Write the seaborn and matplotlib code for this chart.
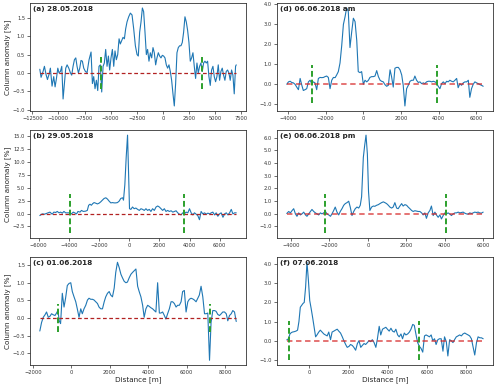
import numpy as np
import matplotlib
matplotlib.use("Agg")
import matplotlib.pyplot as plt
import matplotlib.ticker as mt
import seaborn as sns

# ---------------- data ----------------
titles = ["(a) 28.05.2018", "(d) 06.06.2018 am", "(b) 29.05.2018",
          "(e) 06.06.2018 pm", "(c) 01.06.2018", "(f) 07.06.2018"]

x_a = [-11780, -11660, -11470, -11340, -11180, -11050, -10890, -10770, -10610, -10450,
       -10320, -10190, -10060, -9940, -9810, -9680, -9555, -9430, -9300, -9170,
       -9010, -8850, -8730, -8600, -8470, -8340, -8220, -8090, -7960, -7840,
       -7710, -7580, -7420, -7260, -7070, -6880, -6750, -6625, -6500, -6370,
       -6240, -6120, -5990, -5860, -5730, -5610, -5480, -5350, -5220, -5100,
       -4970, -4840, -4710, -4590, -4460, -4330, -4200, -4080, -3950, -3820,
       -3690, -3570, -3440, -3280, -3120, -2960, -2800, -2640, -2480, -2360,
       -2230, -2100, -1970, -1850, -1720, -1590, -1470, -1340, -1210, -1080,
       -955, -830, -700, -575, -445, -320, -190, -64, 64, 191,
       319, 446, 573, 701, 828, 956, 1083, 1210, 1338, 1465,
       1593, 1720, 1847, 1975, 2102, 2230, 2357, 2484, 2612, 2739,
       2867, 2994, 3121, 3249, 3376, 3504, 3631, 3758, 3886, 4013,
       4141, 4268, 4395, 4523, 4650, 4778, 4905, 5032, 5160, 5287,
       5415, 5542, 5669, 5797, 5924, 6052, 6179, 6306, 6434, 6561,
       6689, 6816, 6943, 7007]
y_a = [0.1, -0.12, 0.04, 0.18, -0.05, -0.18, -0.03, 0.13, -0.36, -0.1,
       -0.38, -0.15, 0.13, 0.0, 0.04, 0.18, -0.71, -0.29, 0.13, 0.22,
       0.13, 0.0, -0.06, 0.18, 0.36, 0.41, 0.18, 0.0, 0.13, 0.34,
       0.32, 0.13, 0.04, 0.01, 0.36, 0.57, -0.29, -0.1, -0.43, -0.2,
       -0.48, 0.18, 0.22, -0.52, 0.18, 0.27, 0.64, 0.18, 0.46, 0.08,
       0.41, 0.64, 0.18, 0.6, 0.36, 0.5, 0.93, 0.79, 0.88, 0.97,
       0.93, 1.2, 1.39, 1.53, 1.63, 1.58, 1.2, 0.74, 0.5, 0.46,
       1.11, 1.39, 1.77, 1.67, 1.11, 0.5, 0.64, 0.32, 0.55, 0.41,
       0.69, 0.55, 0.22, 0.41, 0.55, 0.46, 0.41, 0.48, 0.46, 0.41,
       0.22, 0.13, 0.22, 0.04, -0.2, -0.57, -0.9, -0.29, 0.55, 0.69,
       0.74, 0.74, 0.83, 1.11, 1.53, 1.39, 1.16, 0.83, 0.32, 0.41,
       0.55, 0.18, -0.15, 0.27, 0.0, 0.18, 0.27, 0.04, 0.27, 0.32,
       0.27, 0.32, -0.1, -0.34, 0.08, 0.18, -0.1, -0.24, -0.1, 0.22,
       -0.2, 0.04, 0.13, -0.06, -0.2, 0.04, 0.08, 0.0, -0.2, 0.08,
       -0.06, -0.57, 0.18, 0.22]

x_b = [-5930, -5770, -5620, -5440, -5260, -5110, -5000, -4880, -4770, -4660,
       -4550, -4440, -4330, -4220, -4110, -3950, -3840, -3710, -3620, -3490,
       -3400, -3260, -3170, -3040, -2890, -2780, -2690, -2600, -2510, -2420,
       -2330, -2220, -2110, -2000, -1890, -1780, -1665, -1550, -1440, -1330,
       -1220, -1110, -1000, -890, -780, -670, -560, -440, -380, -290,
       -200, -110, -40, 20,
       110, 220, 330, 440, 560, 670, 780, 890, 1000, 1110,
       1220, 1330, 1440, 1550, 1665, 1780, 1890, 2000, 2110, 2220,
       2330, 2440, 2550, 2660, 2780, 2890, 3000, 3110, 3220, 3330,
       3440, 3550, 3660, 3770, 3890, 4000, 4110, 4220, 4330, 4440,
       4550, 4660, 4770, 4880, 5000, 5110, 5220, 5330, 5440, 5550,
       5660, 5770, 5880, 5990, 6100, 6220, 6330, 6440, 6550, 6660,
       6770, 6880, 6990, 7100]
y_b = [-0.4, -0.07, -0.13, 0.07, 0.27, -0.13, 0.27, 0.2, 0.4, 0.13,
       0.27, 0.07, 0.4, 0.13, 0.13, 0.13, -0.07, 0.27, 0.13, -0.07,
       0.4, 0.27, 0.6, 0.4, 0.46, 0.6, 1.6, 1.8, 1.6, 1.92,
       2.12, 2.0, 1.86, 2.0, 2.26, 2.59, 2.92, 3.05, 2.79, 2.39,
       2.06, 2.12, 2.06, 2.06, 2.12, 2.39, 2.92, 3.05, 2.59, 5.57,
       10.9, 15.2, 7.6, 0.93,
       0.8, 1.26, 0.93, 1.06, 0.8, 0.6, 0.93, 0.8, 0.6, 0.93,
       0.6, 0.8, 0.4, 0.93, 0.6, 1.26, 1.46, 1.26, 0.93, 0.6,
       0.93, 0.4, 0.6, 0.4, 0.53, 0.27, 0.4, 0.53, 0.13, -0.13,
       -0.27, 0.13, -0.07, 0.27, 0.13, 0.93, 0.13, -0.27, 0.13, -0.13,
       -0.4, -1.2, 0.4, -0.07, 0.13, -0.13, 0.07, -0.07, 0.13, 0.27,
       -0.27, 0.13, -0.53, -0.07, 0.13, -0.73, -0.07, 0.13, -0.27, 0.13,
       0.8, -0.07, 0.13, 0.13]

x_c = [-1640, -1550, -1460, -1370, -1290, -1200, -1110, -1030, -940, -850, -770,
       -700, -630, -560,
       -470, -380, -300, -210, -120, -30, 50, 140, 230, 310,
       400, 490, 570, 660, 750, 840, 920, 1010, 1100, 1180,
       1270, 1360, 1440, 1530, 1620, 1710, 1790, 1880, 1970, 2050,
       2140, 2230, 2310, 2400, 2490, 2580, 2660, 2750, 2840, 2920,
       3010, 3100, 3180, 3270, 3360, 3450, 3530, 3620, 3710, 3790,
       3880, 3970, 4050, 4140, 4230, 4320, 4400, 4490, 4580, 4660,
       4750, 4840, 4920, 5010, 5100, 5190, 5270, 5360, 5450, 5530,
       5620, 5710, 5790, 5880, 5970, 6060, 6140, 6230, 6320, 6400,
       6490, 6580, 6660, 6750, 6840, 6930, 7010, 7100, 7190, 7270,
       7360, 7450, 7530, 7620, 7710, 7800, 7880, 7970, 8060, 8140,
       8230, 8320, 8400, 8490, 8580]
y_c = [-0.37, -0.13, 0.02, 0.09, 0.17, 0.02, 0.05, 0.12, 0.09, 0.07, 0.14,
       0.21, -0.08, -0.16,
       0.7, 0.31, 0.56, 0.92, 0.98, 1.0, 0.75, 0.6, 0.46, 0.26,
       0.02, 0.26, 0.12, 0.26, 0.36, 0.51, 0.56, 0.53, 0.53, 0.51,
       0.46, 0.41, 0.31, 0.26, 0.26, 0.46, 0.6, 0.7, 0.75, 0.65,
       0.6, 0.85, 1.29, 1.58, 1.43, 1.24, 1.14, 1.04, 1.0, 1.02,
       1.14, 1.24, 1.29, 1.34, 1.39, 0.9, 0.75, 0.6, 0.36, 0.02,
       0.26, 0.36, 0.33, 0.29, 0.26, 0.21, 0.17, 1.0, 0.14, 0.14,
       0.17, 0.07, -0.03, 0.12, 0.26, 0.46, 0.46, 0.41, 0.31, 0.36,
       0.36, 0.46, 0.75, 0.78, 0.17, 0.46, 0.53, 0.56, 0.54, 0.51,
       0.46, 0.56, 0.65, 0.9, 0.6, 0.12, 0.12, 0.14, -1.2, -0.13,
       0.21, 0.21, 0.19, 0.1, 0.07, 0.12, 0.17, 0.17, 0.12, -0.08,
       0.07, 0.12, 0.21, 0.17, -0.1]

x_d = [-4070, -3980, -3890, -3810, -3720, -3630, -3540, -3450, -3360, -3270,
       -3190, -3100, -3010, -2920, -2830, -2740, -2660, -2570, -2480, -2390,
       -2300, -2210, -2120, -2040, -1950, -1860, -1770, -1680, -1590, -1500,
       -1420, -1330, -1240, -1150, -1060, -970, -890, -800, -710, -620,
       -530, -440, -350, -270, -180, -90, 0, 90, 180, 270,
       350, 440, 530, 620, 710, 800, 890, 970, 1060, 1150,
       1240, 1330, 1420, 1500, 1590, 1680, 1770, 1860, 1950, 2040,
       2120, 2210, 2300, 2390, 2480, 2570, 2660, 2740, 2830, 2920,
       3010, 3100, 3190, 3270, 3360, 3450, 3540, 3630, 3720, 3810,
       3890, 3980, 4070, 4160, 4250, 4340, 4430, 4510, 4600, 4690,
       4780, 4870, 4960, 5040, 5130, 5220, 5310, 5400, 5490, 5580,
       5660, 5750, 5840, 5930, 6020, 6110, 6200, 6280, 6370]
y_d = [0.0, 0.12, 0.15, 0.09, 0.07, 0.0, -0.14, -0.27, 0.29, -0.05,
       -0.31, -0.27, -0.22, 0.12, 0.2, 0.03, 0.12, 0.07, -0.27, 0.29,
       0.34, 0.33, 0.34, 0.38, 0.41, 0.34, -0.22, 0.2, 0.34, 0.33,
       0.46, 0.63, 1.06, 1.92, 2.98, 3.37, 3.8, 3.63, 1.83, 2.6,
       3.29, 3.12, 2.18, 0.63, 0.58, 0.63, 0.0, 0.2, 0.12, 0.2,
       0.34, 0.38, 0.38, 0.41, 0.68, 0.38, 0.2, 0.15, 0.12, -0.02,
       -0.1, -0.05, 0.72, 0.38, -0.14, 0.8, 0.84, 0.84, 0.72, 0.46,
       -0.05, -1.08, -0.22, -0.05, 0.15, 0.2, 0.2, 0.41, 0.2, 0.09,
       0.12, 0.03, 0.07, 0.03, 0.12, 0.15, 0.15, 0.12, 0.15, 0.12,
       0.07, -0.1, -0.22, 0.03, 0.12, 0.03, 0.15, 0.12, 0.2, 0.15,
       0.12, 0.2, 0.29, -0.17, 0.03, -0.05, 0.07, 0.12, 0.12, 0.2,
       -0.65, -0.22, 0.0, 0.12, 0.07, 0.03, -0.02, -0.05, -0.1]

x_e = [-4220, -4120, -4030, -3940, -3860, -3770, -3690, -3600, -3510, -3430,
       -3340, -3250, -3170, -3080, -2990, -2910, -2820, -2730, -2650, -2560,
       -2470, -2390, -2300, -2210, -2130, -2040, -1950, -1870, -1780, -1700,
       -1610, -1520, -1440, -1350, -1260, -1180, -1090, -1000, -920, -830,
       -740, -660, -570, -480, -400,
       -330, -240, -170, -100, -30, 30, 100,
       190, 280, 360, 450, 540, 620, 710, 800, 880, 970,
       1060, 1140, 1230, 1310, 1400, 1490, 1570, 1660, 1750, 1830,
       1920, 2010, 2090, 2180, 2270, 2350, 2440, 2530, 2610, 2700,
       2790, 2870, 2960, 3040, 3130, 3220, 3300, 3390, 3480, 3560,
       3650, 3740, 3820, 3910, 4000, 4080, 4170, 4260, 4340, 4430,
       4520, 4600, 4690, 4780, 4860, 4950, 5030, 5120, 5210, 5290,
       5380, 5470, 5550, 5640, 5730, 5810, 5900, 5990]
y_e = [0.0, 0.16, 0.05, 0.24, 0.38, -0.03, -0.22, 0.05, -0.11, -0.03,
       0.11, -0.11, -0.22, -0.03, 0.16, 0.32, 0.16, 0.05, -0.03, -0.11,
       0.05, -0.03, 0.05, 0.16, -0.03, -0.11, -0.22, -0.03, 0.24, 0.51,
       0.11, -0.11, 0.16, 0.38, 0.65, 0.78, 0.86, 0.97, 0.51, -0.16,
       0.16, 0.38, 0.51, 0.43, 0.65,
       1.32, 4.43, 5.38, 6.19, 4.7, 1.73, 0.24,
       0.51, 0.59, 0.57, 0.65, 0.7, 0.78, 0.86, 0.92, 0.86, 0.78,
       0.65, 0.51, 0.43, 0.51, 0.86, 0.43, 0.38, 0.59, 0.78, 0.59,
       0.7, 0.65, 0.51, 0.38, 0.24, 0.16, 0.22, 0.19, 0.16, 0.16,
       0.05, -0.11, 0.05, -0.38, 0.05, 0.24, 0.59, -0.16, 0.11, -0.11,
       -0.3, -0.11, -0.43, -0.16, 0.05, -0.03, 0.05, -0.05, -0.16, -0.03,
       0.05, 0.05, 0.11, 0.05, 0.08, 0.11, 0.03, -0.03, -0.05, 0.05,
       0.0, 0.05, 0.11, 0.08, 0.11, 0.05, 0.03, 0.11]

x_f = [-1150, -1060, -990, -920, -860, -770, -680, -600, -530, -460, -390, -320,
       -260, -190, -120, -50, 20, 90,
       170, 260, 320, 390,
       480, 560, 650, 740, 820, 910, 990, 1080, 1160, 1250,
       1330, 1420, 1500, 1590, 1680, 1760, 1850, 1930, 2020, 2100,
       2190, 2270, 2360, 2450, 2530, 2620, 2700, 2790, 2870, 2960,
       3040, 3130, 3210, 3300, 3390, 3470, 3560, 3640, 3730, 3810,
       3900, 3980, 4070, 4160, 4240, 4330, 4410, 4500, 4580, 4670,
       4750, 4840, 4920, 5010, 5100, 5180, 5270, 5350, 5440, 5520,
       5610, 5690, 5780, 5870, 5950, 6040, 6120, 6210, 6290, 6380,
       6460, 6550, 6630, 6720, 6810, 6890, 6980, 7060, 7150, 7230,
       7320, 7400, 7490, 7580, 7660, 7750, 7830, 7920, 8000, 8090,
       8170, 8260, 8340, 8430, 8520, 8600, 8690, 8770, 8860]
y_f = [0.04, 0.1, 0.35, 0.42, 0.45, 0.47, 0.5, 0.55, 1.0, 1.75, 1.85, 1.95,
       2.0, 2.8, 4.1, 3.2, 2.1, 1.7,
       1.2, 0.6, 0.2, 0.3,
       0.45, 0.55, 0.45, 0.35, 0.3, 0.25, 0.45, 0.05, 0.45, 0.5,
       0.55, 0.6, 0.5, 0.4, 0.2, 0.0, -0.2, -0.35, -0.3, -0.2,
       -0.25, -0.35, -0.5, -0.15, 0.0, -0.35, -0.25, -0.15, -0.2, -0.1,
       0.0, -0.05, 0.05, -0.1, -0.35, 0.1, 0.75, 0.3, 0.6, 0.65,
       0.7, 0.6, 0.5, 0.65, 0.5, 0.45, 0.6, 0.3, 0.2, 0.35,
       0.1, 0.4, 0.3, 0.35, 0.45, 0.6, 0.85, 0.8, 0.3, -0.1,
       -0.3, -0.4, -0.6, 0.25, 0.3, 0.25, 0.2, 0.3, 0.0, 0.1,
       -0.2, 0.05, 0.1, 0.1, -0.55, 0.2, -0.05, -0.8, 0.05, 0.0,
       -0.1, 0.05, 0.2, 0.25, 0.3, 0.25, 0.35, 0.4, 0.35, 0.3,
       0.25, 0.1, -0.3, -0.75, -0.1, 0.2, 0.15, 0.15, 0.1]

# plume edge markers (m)
edges_a = [-5930, 3750]
edges_b = [-3950, 3620]
edges_c = [-680, 7220]
edges_d = [-2740, 3890]
edges_e = [-2210, 4080]
edges_f = [-1030, 5590]

panels = [(x_a, y_a, edges_a), (x_d, y_d, edges_d), (x_b, y_b, edges_b),
          (x_e, y_e, edges_e), (x_c, y_c, edges_c), (x_f, y_f, edges_f)]
ysteps = [0.5, 1.0, 2.5, 1.0, 0.5, 1.0]
yfmt = ["{x:.1f}", "{x:.1f}", "{x:.1f}", "{x:.1f}", "{x:.1f}", "{x:.1f}"]
xsteps = [2500, 2000, 2000, 2000, 2000, 2000]

# ---------------- plot ----------------
sns.set_style("white")
plt.rcParams["font.family"] = ["DejaVu Sans"]
plt.rcParams["axes.edgecolor"] = "#333333"
plt.rcParams["axes.linewidth"] = 0.6

fig, axes = plt.subplots(3, 2, figsize=(5.0, 3.86), dpi=100)
fig.subplots_adjust(left=0.06, right=0.986, bottom=0.054, top=0.992,
                    wspace=0.143, hspace=0.18)

for i, (ax, (x, y, edges)) in enumerate(zip(axes.flat, panels)):
    right = (i % 2 == 1)
    sns.lineplot(x=x, y=y, ax=ax, color="#1f77b4", linewidth=0.8,
                 sort=False, estimator=None)
    zero = [0.0] * len(x)
    if right:
        ax.plot(x, zero, color="#d62728", linestyle=(0, (3, 2)),
                linewidth=1.3, alpha=0.7)
    else:
        ax.plot(x, zero, color="#b22222", linestyle=(0, (3, 2)),
                linewidth=0.9)
    h = max(y) / 4.0
    for e in edges:
        ax.plot([e, e], [-h, h], color="#2ca02c", linestyle=(0, (3, 1.5)),
                linewidth=1.4)
    ax.text(0.012, 0.975, titles[i], transform=ax.transAxes, ha="left",
            va="top", fontsize=5.2, fontweight="bold")
    ax.yaxis.set_major_locator(mt.MultipleLocator(ysteps[i]))
    ax.yaxis.set_major_formatter(mt.StrMethodFormatter(yfmt[i]))
    ax.xaxis.set_major_locator(mt.MultipleLocator(xsteps[i]))
    ax.tick_params(labelsize=3.7, length=2, width=0.5, pad=1.5,
                   colors="#333333", bottom=True, left=True)
    for s in ax.spines.values():
        s.set_visible(True)
    ax.set_xlabel("")
    ax.set_ylabel("")
    if not right:
        ax.set_ylabel("Column anomaly [%]", fontsize=5.2, labelpad=1.5)
    if i >= 4:
        ax.set_xlabel("Distance [m]", fontsize=5.2, labelpad=1)

fig.savefig("out.png", dpi=100)
